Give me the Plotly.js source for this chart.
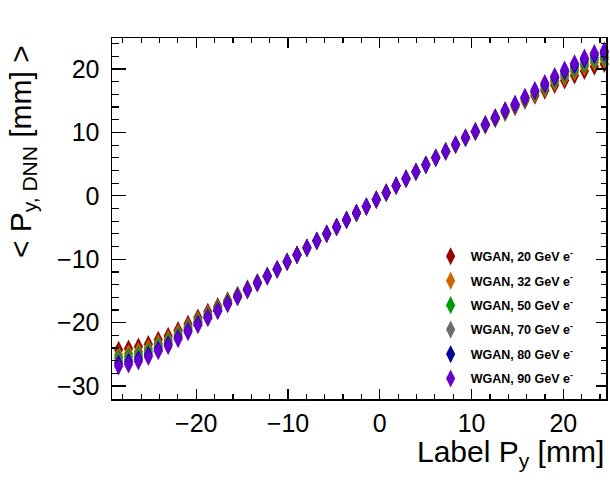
<!DOCTYPE html>
<html>
<head>
<meta charset="utf-8">
<script src="https://cdn.plot.ly/plotly-3.0.1.min.js"></script>
<style>
  html, body { margin: 0; padding: 0; background: #ffffff; }
  #graph_body { width: 610px; height: 487px; }
</style>
</head>
<body>
<div id="graph_body"></div>
<script>
// Label P_y bin centres [mm]
var label_py = [-28.46, -27.38, -26.30, -25.22, -24.14, -23.06, -21.98, -20.90, -19.82, -18.74,
                -17.66, -16.58, -15.50, -14.42, -13.34, -12.26, -11.18, -10.10, -9.02, -7.94,
                -6.86, -5.78, -4.70, -3.62, -2.54, -1.46, -0.38, 0.70, 1.78, 2.86,
                3.94, 5.02, 6.10, 7.18, 8.26, 9.34, 10.42, 11.50, 12.58, 13.66,
                14.74, 15.82, 16.90, 17.98, 19.06, 20.14, 21.22, 22.30, 23.38, 24.46];

// mean DNN P_y per energy [mm]
var dnn_20gev = [-24.3, -24.1, -23.8, -23.4, -22.7, -22.1, -21.2, -20.2, -19.2, -18.3,
                 -17.4, -16.5, -15.6, -14.6, -13.6, -12.6, -11.6, -10.4, -9.3, -8.2,
                 -7.1, -6.0, -4.9, -3.8, -2.7, -1.7, -0.6, 0.5, 1.6, 2.7,
                 3.8, 4.9, 6.0, 7.0, 8.05, 9.1, 10.05, 11.1, 12.1, 13.1,
                 14.0, 15.0, 15.8, 16.6, 17.5, 18.2, 19.0, 19.7, 20.4, 20.8];
var dnn_32gev = [-25.1, -24.85, -24.5, -24.0, -23.25, -22.6, -21.6, -20.6, -19.55, -18.6,
                 -17.65, -16.7, -15.7, -14.7, -13.65, -12.65, -11.6, -10.4, -9.3, -8.2,
                 -7.1, -6.0, -4.9, -3.8, -2.7, -1.7, -0.6, 0.5, 1.6, 2.7,
                 3.8, 4.9, 6.0, 7.0, 8.07, 9.13, 10.1, 11.16, 12.2, 13.2,
                 14.15, 15.2, 16.05, 16.95, 17.9, 18.7, 19.55, 20.35, 21.05, 21.45];
var dnn_50gev = [-25.6, -25.35, -24.95, -24.4, -23.6, -22.9, -21.9, -20.85, -19.8, -18.8,
                 -17.8, -16.8, -15.8, -14.75, -13.7, -12.65, -11.6, -10.4, -9.3, -8.2,
                 -7.1, -6.0, -4.9, -3.8, -2.7, -1.7, -0.6, 0.5, 1.6, 2.7,
                 3.8, 4.9, 6.0, 7.0, 8.08, 9.15, 10.13, 11.2, 12.25, 13.3,
                 14.25, 15.3, 16.25, 17.2, 18.2, 19.05, 19.95, 20.75, 21.45, 21.85];
var dnn_70gev = [-26.05, -25.8, -25.35, -24.75, -23.9, -23.2, -22.15, -21.05, -20.0, -18.95,
                 -17.95, -16.9, -15.85, -14.8, -13.75, -12.65, -11.6, -10.4, -9.3, -8.2,
                 -7.1, -6.0, -4.9, -3.8, -2.7, -1.7, -0.6, 0.5, 1.6, 2.7,
                 3.8, 4.9, 6.0, 7.0, 8.08, 9.17, 10.15, 11.23, 12.3, 13.37,
                 14.33, 15.4, 16.4, 17.4, 18.45, 19.35, 20.3, 21.1, 21.8, 22.2];
var dnn_80gev = [-26.5, -26.2, -25.75, -25.1, -24.25, -23.45, -22.4, -21.3, -20.2, -19.15,
                 -18.1, -17.0, -15.95, -14.85, -13.75, -12.7, -11.6, -10.4, -9.3, -8.2,
                 -7.1, -6.0, -4.9, -3.8, -2.7, -1.7, -0.6, 0.5, 1.6, 2.7,
                 3.8, 4.9, 6.0, 7.0, 8.1, 9.2, 10.2, 11.27, 12.35, 13.45,
                 14.43, 15.5, 16.55, 17.6, 18.7, 19.65, 20.6, 21.5, 22.2, 22.6];
var dnn_90gev = [-26.9, -26.6, -26.1, -25.4, -24.5, -23.7, -22.6, -21.5, -20.4, -19.3,
                 -18.2, -17.1, -16.0, -14.9, -13.8, -12.7, -11.6, -10.4, -9.3, -8.2,
                 -7.1, -6.0, -4.9, -3.8, -2.7, -1.7, -0.6, 0.5, 1.6, 2.7,
                 3.8, 4.9, 6.0, 7.0, 8.1, 9.2, 10.2, 11.3, 12.4, 13.5,
                 14.5, 15.6, 16.7, 17.8, 18.9, 19.9, 20.9, 21.8, 22.5, 22.9];

var series_names = ['WGAN, 20 GeV e<sup>-</sup>', 'WGAN, 32 GeV e<sup>-</sup>', 'WGAN, 50 GeV e<sup>-</sup>',
                    'WGAN, 70 GeV e<sup>-</sup>', 'WGAN, 80 GeV e<sup>-</sup>', 'WGAN, 90 GeV e<sup>-</sup>'];
var series_values = [dnn_20gev, dnn_32gev, dnn_50gev, dnn_70gev, dnn_80gev, dnn_90gev];
var series_colors = ['#990000', '#cc6600', '#009900', '#6e6e6e', '#000099', '#6600cc'];

var font_family = 'Liberation Sans, Arial, sans-serif';

// Code for building one marker trace per energy
function build_traces(){
    var data = [];
    for (var i = 0; i < series_values.length; i++){
        data.push({
            x: label_py,
            y: series_values[i],
            name: series_names[i],
            legendgroup: 'g' + i,
            type: 'scatter',
            mode: 'markers',
            cliponaxis: false,
            marker: {
                symbol: 'diamond-tall',
                size: 13,
                color: series_colors[i],
                line: {width: 0}
            }
        });
    }
    return data;
}

var layout = {
    width: 610,
    height: 487,
    margin: {l: 112, r: 4, t: 38, b: 88},
    paper_bgcolor: '#ffffff',
    plot_bgcolor: '#ffffff',
    showlegend: true,
    legend: {
        x: 0.645, xanchor: 'left',
        y: 0.436, yanchor: 'top',
        bgcolor: 'rgba(0,0,0,0)',
        tracegroupgap: 5.2,
        font: {family: font_family, size: 12.5, color: '#000000', weight: 'bold'}
    },
    xaxis: {
        range: [-29.18, 24.65],
        showgrid: false,
        zeroline: false,
        showline: true,
        linecolor: '#000000',
        linewidth: 1.5,
        mirror: 'ticks',
        ticks: 'inside',
        ticklen: 10,
        tickwidth: 1.2,
        tickcolor: '#000000',
        dtick: 10,
        tick0: 0,
        minor: {ticks: 'inside', ticklen: 5, tickwidth: 1.2, tickcolor: '#000000', dtick: 2, tick0: 0},
        ticklabelstandoff: 1,
        tickfont: {family: font_family, size: 25, color: '#000000'}
    },
    yaxis: {
        range: [-32.05, 24.9],
        showgrid: false,
        zeroline: false,
        showline: true,
        linecolor: '#000000',
        linewidth: 1.5,
        mirror: true,
        ticks: 'inside',
        ticklen: 14,
        tickwidth: 1.2,
        tickcolor: '#000000',
        dtick: 10,
        tick0: 0,
        minor: {ticks: 'inside', ticklen: 7, tickwidth: 1.2, tickcolor: '#000000', dtick: 2, tick0: 0},
        ticklabelstandoff: 6,
        tickfont: {family: font_family, size: 25, color: '#000000'}
    },
    // right side ticks are shorter than the left ones
    yaxis2: {
        range: [-32.05, 24.9],
        overlaying: 'y',
        side: 'right',
        showgrid: false,
        zeroline: false,
        showline: false,
        showticklabels: false,
        ticks: 'inside',
        ticklen: 10,
        tickwidth: 1.2,
        tickcolor: '#000000',
        dtick: 10,
        tick0: 0,
        minor: {ticks: 'inside', ticklen: 5, tickwidth: 1.2, tickcolor: '#000000', dtick: 2, tick0: 0}
    },
    annotations: [
        {
            text: 'Label P<sub>y</sub> [mm]',
            xref: 'paper', yref: 'paper',
            x: 1.0, xanchor: 'right',
            y: -0.094, yanchor: 'top',
            showarrow: false,
            font: {family: font_family, size: 30, color: '#000000'}
        },
        {
            text: '&lt; P<sub>y, DNN</sub> [mm] &gt;',
            xref: 'paper', yref: 'paper',
            x: -0.224, xanchor: 'left',
            y: 0.987, yanchor: 'top',
            textangle: -90,
            showarrow: false,
            font: {family: font_family, size: 30, color: '#000000'}
        }
    ]
};

var data = build_traces();
// dummy trace so the right y axis is drawn
data.unshift({x: [0], y: [0], yaxis: 'y2', type: 'scatter', mode: 'markers',
              marker: {opacity: 0}, showlegend: false, hoverinfo: 'skip'});

var config = {staticPlot: true};

Plotly.newPlot('graph_body', data, layout, config);
</script>
</body>
</html>
